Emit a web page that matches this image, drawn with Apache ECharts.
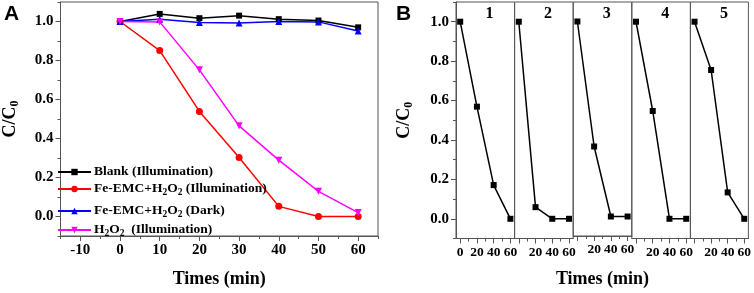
<!DOCTYPE html>
<html>
<head>
<meta charset="utf-8">
<script src="https://cdn.jsdelivr.net/npm/echarts@6/dist/echarts.min.js"></script>
<style>
html, body { margin: 0; padding: 0; background: #fff; }
#chart { width: 754px; height: 293px; }
</style>
</head>
<body>
<div id="chart"></div>
<script>
// panel A : C/C0 vs time
var timesA = [0, 10, 20, 30, 40, 50, 60];
var blankIllum = [1.0, 1.039, 1.017, 1.03, 1.012, 1.005, 0.97];
var femcIllum = [1.0, 0.851, 0.539, 0.303, 0.052, 0.0, 0.0];
var femcDark = [1.0, 1.012, 0.995, 0.992, 1.0, 0.998, 0.951];
var h2o2Illum = [1.0, 0.998, 0.752, 0.465, 0.289, 0.129, 0.02];
var namesA = ['Blank (Illumination)', 'Fe-EMC+H2O2 (Illumination)', 'Fe-EMC+H2O2 (Dark)', 'H2O2  (Illumination)'];

// panel B : 5 reuse cycles
var timesB = [0, 20, 40, 60];
var cycle1 = [1.0, 0.569, 0.171, 0.0];
var cycle2 = [1.0, 0.059, 0.0, 0.0];
var cycle3 = [1.0, 0.359, 0.0, 0.0];
var cycle4 = [1.0, 0.547, 0.0, 0.0];
var cycle5 = [1.0, 0.755, 0.134, 0.0];
var cycleNames = ['1', '2', '3', '4', '5'];

// ticks
var yTicks = [0, 0.2, 0.4, 0.6, 0.8, 1.0];
var yMinor = [-0.1, 0.1, 0.3, 0.5, 0.7, 0.9, 1.1];
var xTicksA = [-10, 0, 10, 20, 30, 40, 50, 60];
var xMinorA = [-15, -5, 5, 15, 25, 35, 45, 55, 65];
var xTicksB = [0, 20, 40, 60];
var xLabelsB = [20, 40, 60];
var xMinorB = [10, 30, 50];

var serif = 'Liberation Serif';
var frameColor = '#555';
var A = { left: 57, top: 2, width: 321, height: 236.5 };
var B = { left: 456, top: 2, width: 58.6, height: 236.5 };

var myChart = echarts.init(document.getElementById('chart'));

var subRich = {
    t: { fontFamily: serif, fontWeight: 'bold', fontSize: 13.5, color: '#000' },
    s: { fontFamily: serif, fontWeight: 'bold', fontSize: 9.5, color: '#000', padding: [7, 0, 0, 0] }
};
function subText(str) {
    // H2O2 -> H with subscripts
    var parts = str.split('H2O2');
    var out = '';
    for (var i = 0; i < parts.length; i++) {
        if (parts[i]) out += '{t|' + parts[i] + '}';
        if (i < parts.length - 1) out += '{t|H}{s|2}{t|O}{s|2}';
    }
    return out;
}

var labelFont = { fontFamily: serif, fontWeight: 'bold', fontSize: 15, color: '#000' };
var nameRich = {
    a: { fontFamily: serif, fontWeight: 'bold', fontSize: 18, color: '#000' },
    b: { fontFamily: serif, fontWeight: 'bold', fontSize: 12, color: '#000', padding: [9, 0, 0, 0] }
};

function mainAxis(grid, pos, min, max, ticks, labels, extra) {
    var ax = {
        type: 'value', gridIndex: grid, position: pos, min: min, max: max,
        axisLine: { show: true, onZero: false, lineStyle: { color: frameColor, width: 1 } },
        axisTick: { show: true, length: 5, customValues: ticks, lineStyle: { color: frameColor } },
        axisLabel: Object.assign({ show: true, margin: 7, hideOverlap: false, customValues: labels,
            formatter: function (v) { return extra && extra.fmt ? extra.fmt(v) : String(v); } }, labelFont),
        splitLine: { show: false }
    };
    if (extra) {
        for (var k in extra) {
            if (k === 'fmt') continue;
            if (k === 'labelSize') { ax.axisLabel.fontSize = extra[k]; continue; }
            ax[k] = extra[k];
        }
    }
    return ax;
}
function minorAxis(grid, pos, min, max, ticks) {
    return {
        type: 'value', gridIndex: grid, position: pos, offset: 0, min: min, max: max,
        axisLine: { show: false, onZero: false },
        axisTick: { show: true, length: 3, customValues: ticks, lineStyle: { color: frameColor } },
        axisLabel: { show: false },
        splitLine: { show: false }
    };
}
function fmtY(v) { return v.toFixed(1); }

var xName = {
    name: 'Times (min)', nameLocation: 'middle', nameGap: 34,
    nameTextStyle: { fontFamily: serif, fontWeight: 'bold', fontSize: 18, color: '#000' }
};

var grids = [Object.assign({ show: true, borderColor: frameColor, borderWidth: 1 }, A)];
var xAxes = [
    mainAxis(0, 'bottom', -15, 65, xTicksA, xTicksA, xName),
    minorAxis(0, 'bottom', -15, 65, xMinorA)
];
var yAxes = [
    mainAxis(0, 'left', -0.1, 1.1, yTicks, yTicks, {
        fmt: fmtY, name: '{a|C/C}{b|0}', nameLocation: 'middle', nameGap: 40, nameRotate: 90,
        nameTextStyle: { rich: nameRich }
    }),
    minorAxis(0, 'left', -0.1, 1.1, yMinor)
];

var colorsA = ['#000000', '#ff0000', '#0000ff', '#ff00ff'];
var symbolsA = ['rect', 'circle', 'triangle', 'triangle'];
var rotateA = [0, 0, 0, 180];
var dataA = [blankIllum, femcIllum, femcDark, h2o2Illum];
var series = [];
for (var i = 0; i < 4; i++) {
    series.push({
        name: namesA[i], type: 'line', xAxisIndex: 0, yAxisIndex: 0,
        data: timesA.map(function (t, j) { return [t, dataA[i][j]]; }),
        symbol: symbolsA[i], symbolRotate: rotateA[i], symbolSize: i === 0 ? 6 : 7,
        lineStyle: { color: colorsA[i], width: 1.5 },
        itemStyle: { color: colorsA[i] }
    });
}

var cycles = [cycle1, cycle2, cycle3, cycle4, cycle5];
var graphics = [
    { type: 'text', left: 4, top: 4, style: { text: 'A', fontFamily: 'Liberation Sans', fontWeight: 'bold', fontSize: 21, fill: '#000' } },
    { type: 'text', left: 396, top: 4, style: { text: 'B', fontFamily: 'Liberation Sans', fontWeight: 'bold', fontSize: 21, fill: '#000' } }
];
for (var p = 0; p < 5; p++) {
    var gi = p + 1;
    var left = B.left + p * B.width;
    grids.push({ show: true, borderColor: frameColor, borderWidth: 1, left: left, top: B.top, width: B.width, height: B.height });
    var bx = { labelSize: 13.5 };
    if (p === 2) Object.assign(bx, xName);
    xAxes.push(mainAxis(gi, 'bottom', -5, 65, xTicksB, p === 0 ? xTicksB : xLabelsB, bx));
    xAxes.push(minorAxis(gi, 'bottom', -5, 65, xMinorB));
    if (p === 0) {
        yAxes.push(mainAxis(gi, 'left', -0.1, 1.1, yTicks, yTicks, {
            fmt: fmtY, name: '{a|C/C}{b|0}', nameLocation: 'middle', nameGap: 41, nameRotate: 90,
            nameTextStyle: { rich: nameRich }
        }));
        yAxes.push(minorAxis(gi, 'left', -0.1, 1.1, yMinor));
    } else {
        yAxes.push({ type: 'value', gridIndex: gi, min: -0.1, max: 1.1, show: false, splitLine: { show: false } });
    }
    series.push({
        name: 'cycle ' + cycleNames[p], type: 'line',
        xAxisIndex: xAxes.length - 2, yAxisIndex: p === 0 ? yAxes.length - 2 : yAxes.length - 1,
        data: timesB.map(function (t, j) { return [t, cycles[p][j]]; }),
        symbol: 'rect', symbolSize: 6,
        lineStyle: { color: '#000', width: 1.5 },
        itemStyle: { color: '#000' }
    });
    graphics.push({
        type: 'text', x: left + 33.5, y: 14,
        style: { text: cycleNames[p], fontFamily: serif, fontWeight: 'bold', fontSize: 16, fill: '#000', align: 'center', verticalAlign: 'middle' }
    });
}

var legendTops = [165, 182, 204, 223];
var legends = namesA.map(function (n, i) {
    return {
        data: [n], left: 57, top: legendTops[i], padding: 0,
        itemWidth: 33, itemHeight: 8, itemGap: 4,
        selectedMode: false,
        formatter: function (name) { return subText(name); },
        textStyle: { rich: subRich, padding: [0, 0, 0, -2] }
    };
});

var option = {
    animation: false,
    backgroundColor: '#fff',
    grid: grids,
    xAxis: xAxes,
    yAxis: yAxes,
    legend: legends,
    graphic: graphics,
    series: series
};
myChart.setOption(option);
</script>
</body>
</html>
